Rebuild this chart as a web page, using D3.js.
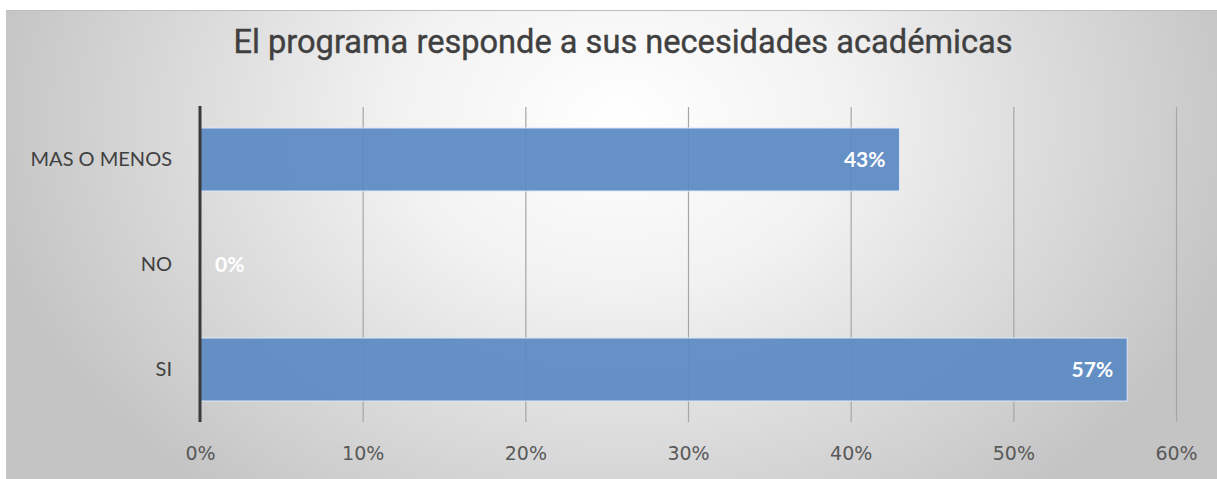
<!DOCTYPE html>
<html><head><meta charset="utf-8">
<script src="https://cdn.jsdelivr.net/npm/d3@7"></script>
<style>html,body{margin:0;padding:0;background:#fff;}svg{display:block;}</style>
</head><body>
<script>
const categories = ["MAS O MENOS", "NO", "SI"];
const values = [0.43, 0.00, 0.57];
const labels = ["43%", "0%", "57%"];
const tickValues = [0, 0.1, 0.2, 0.3, 0.4, 0.5, 0.6];
const title = "El programa responde a sus necesidades académicas";

const W = 1217, H = 479;
const svg = d3.select("body").append("svg").attr("width", W).attr("height", H);
const defs = svg.append("defs");
const rg = defs.append("radialGradient").attr("id","bg")
  .attr("gradientUnits","userSpaceOnUse").attr("cx",620).attr("cy",120).attr("r",640)
  .attr("gradientTransform","translate(620,120) scale(1,0.75) translate(-620,-120)");
rg.append("stop").attr("offset","0").attr("stop-color","#ffffff");
rg.append("stop").attr("offset","0.35").attr("stop-color","#f2f2f2");
rg.append("stop").attr("offset","1").attr("stop-color","#c4c4c4");

svg.append("rect").attr("x",6).attr("y",10).attr("width",W-6).attr("height",H-10).attr("fill","url(#bg)");
svg.append("line").attr("x1",6).attr("x2",W).attr("y1",10.5).attr("y2",10.5).attr("stroke","#bdbdbd").attr("stroke-width",1);
svg.append("line").attr("x1",6.5).attr("x2",6.5).attr("y1",10).attr("y2",H).attr("stroke","#c8c8c8").attr("stroke-width",1);

const x = d3.scaleLinear().domain([0, 0.6]).range([200, 1176]);
const y = d3.scaleBand().domain(categories).range([107, 422]).paddingInner(0.4).paddingOuter(0.2);

svg.append("text").attr("x", 623).attr("y", 53).attr("text-anchor","middle")
  .attr("font-family","Roboto, 'Liberation Sans', Arial, sans-serif").attr("font-size", 32.6)
  .attr("font-weight", 400).attr("stroke","#404040").attr("stroke-width",0.4)
  .attr("fill","#404040").text(title);

// gridlines
const grid = svg.append("g").attr("transform","translate(0,107)")
  .call(d3.axisBottom(x).tickValues(tickValues.slice(1)).tickSize(315).tickFormat(""));
grid.select(".domain").remove();
grid.selectAll(".tick line").attr("stroke","#a6a6a6").attr("stroke-width",1.2);

// bars
svg.append("g").selectAll("rect").data(categories).join("rect")
  .attr("x", x(0)).attr("y", d => y(d))
  .attr("width", (d,i) => x(values[i]) - x(0))
  .attr("height", y.bandwidth())
  .attr("fill", "#5b8ac3").attr("fill-opacity", 0.93)
  .attr("stroke", "#dce7f5").attr("stroke-width", 1);

// data labels
svg.append("g").selectAll("text").data(categories).join("text")
  .attr("x", (d,i) => values[i] === 0 ? x(0) + 15 : x(values[i]) - 14)
  .attr("y", d => y(d) + y.bandwidth()/2)
  .attr("dy","0.36em")
  .attr("text-anchor", (d,i) => values[i] === 0 ? "start" : "end")
  .attr("font-family","Lato, 'Open Sans', sans-serif").attr("font-weight","bold").attr("font-size",21)
  .attr("fill","#ffffff").text((d,i) => labels[i]);

// y axis
const ya = svg.append("g").attr("transform","translate(200,0)")
  .call(d3.axisLeft(y).tickSize(0).tickPadding(28));
ya.select(".domain").remove();
ya.selectAll("text").attr("font-family","Lato, 'Open Sans', sans-serif").attr("font-size",20).attr("fill","#404040");
svg.append("line").attr("x1",200).attr("x2",200).attr("y1",106).attr("y2",422)
  .attr("stroke","#3a3a3a").attr("stroke-width",3);

// x tick labels
const xa = svg.append("g").attr("transform","translate(0,422)")
  .call(d3.axisBottom(x).tickValues(tickValues).tickSize(0).tickPadding(25).tickFormat(d3.format(".0%")));
xa.select(".domain").remove();
xa.selectAll("text").attr("font-family","'DejaVu Sans', Verdana, sans-serif").attr("font-size",19).attr("fill","#595959");
</script>
</body></html>
